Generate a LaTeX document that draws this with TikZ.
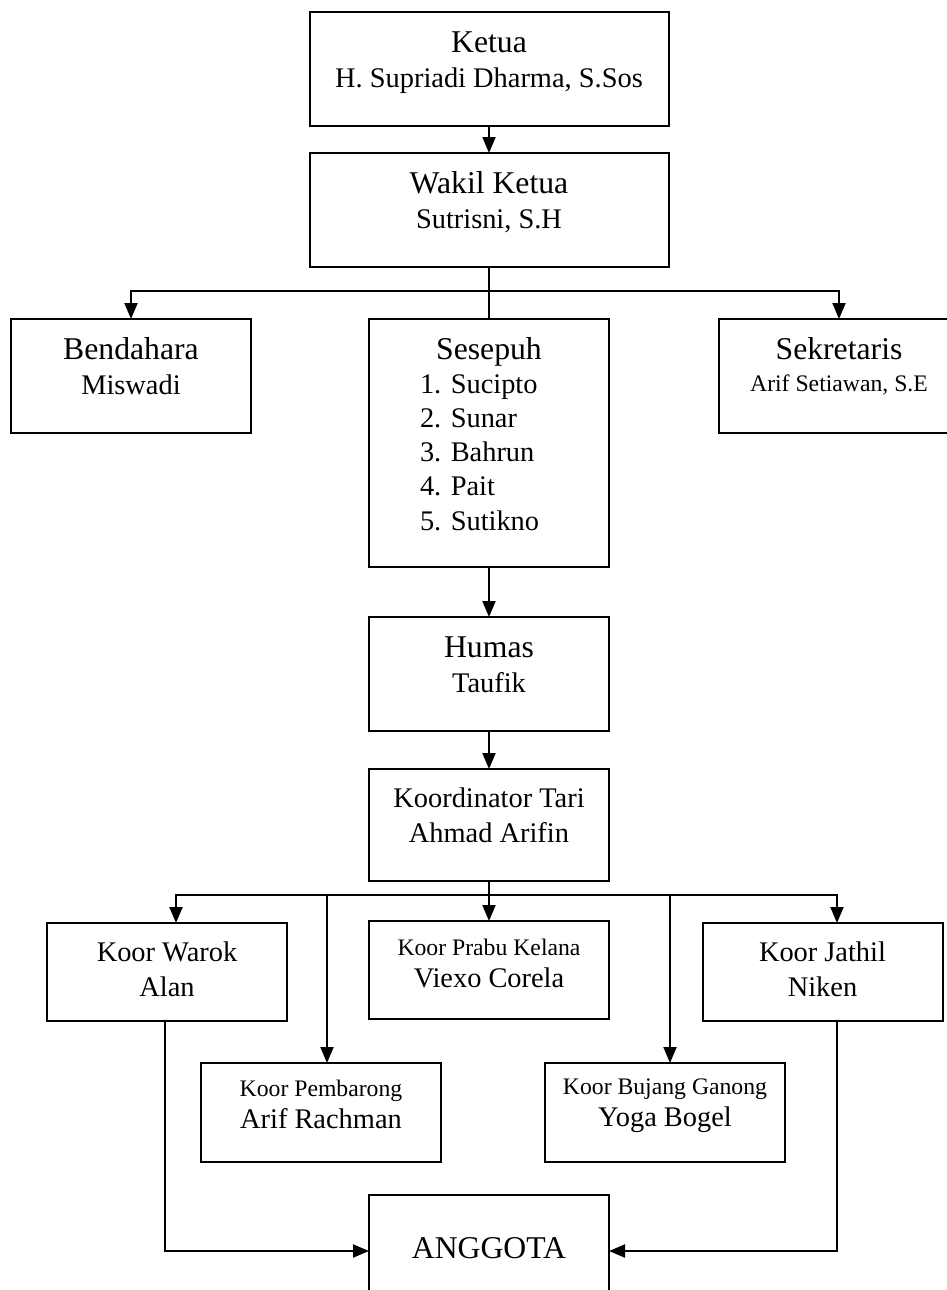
\documentclass[tikz,border=0pt]{standalone}
\usepackage{fontspec}
\setmainfont{Liberation Serif}
\usetikzlibrary{arrows.meta}
\usetikzlibrary{positioning}
\tikzset{>={Triangle[length=8pt,width=6.5pt]}}
\newcommand\titlesz{\fontsize{15.85pt}{17.5pt}\selectfont}
\newcommand\namesz{\fontsize{14.2pt}{17.5pt}\selectfont}
\newcommand\smallsz{\fontsize{11.85pt}{14pt}\selectfont}
\newcommand\boxwidth{120pt}
\newcommand\widebox{179.5pt}
\newcommand\elder[1]{\makebox[69pt][l]{#1}}
\tikzset{
    link/.style = {line width=1pt},
    orgbox/.style={draw, line width=1pt, inner sep=0pt, outer sep=0pt, text width=\boxwidth, align=flush center, font=\namesz, text height=20pt, text depth=37pt},
    tallbox/.style={text depth=104pt, font={\fontsize{14.2pt}{17.1pt}\selectfont}},
    koorbox/.style={text height=19pt, text depth=30pt},
    smallhead/.style={text height=16.5pt, text depth=33pt, font={\fontsize{14.2pt}{16pt}\selectfont}},
}

\begin{document}
\begin{tikzpicture}[x=0.5pt, y=-0.5pt]
    \useasboundingbox (0,0) rectangle (947,1290);
    \clip (0,0) rectangle (947,1290);
    \node[orgbox, text width=\widebox, anchor=north] (ketua) at (489,12) {{\titlesz Ketua}\\H. Supriadi Dharma, S.Sos};
    \node[orgbox, text width=\widebox, below=13.5pt of ketua] (wakil) {{\titlesz Wakil Ketua}\\Sutrisni, S.H};
    \node[orgbox, tallbox, below=26pt of wakil] (sesepuh) {{\titlesz Sesepuh}\\\elder{1. Sucipto}\\\elder{2. Sunar}\\\elder{3. Bahrun}\\\elder{4. Pait}\\\elder{5. Sutikno}};
    \node[orgbox, anchor=north] (bendahara) at (131,319) {{\titlesz Bendahara}\\Miswadi};
    \node[orgbox, anchor=north, font={\fontsize{14.2pt}{16pt}\selectfont}] (sekretaris) at (839,319) {{\titlesz Sekretaris}\\{\smallsz Arif Setiawan, S.E}};
    \node[orgbox, below=25pt of sesepuh] (humas) {{\titlesz Humas}\\Taufik};
    \node[orgbox, text height=19pt, below=19pt of humas] (koord) {Koordinator Tari\\Ahmad Arifin};
    \node[orgbox, smallhead, text height=17pt, text depth=32pt, below=20pt of koord] (prabu) {{\smallsz Koor Prabu Kelana}\\Viexo Corela};
    \node[orgbox, koorbox, anchor=north] (warok) at (167,923) {Koor Warok\\Alan};
    \node[orgbox, koorbox, anchor=north] (jathil) at (822.5,923) {Koor Jathil\\Niken};
    \node[orgbox, smallhead, anchor=north] (pembarong) at (321,1063) {{\smallsz Koor Pembarong}\\Arif Rachman};
    \node[orgbox, smallhead, text height=15.5pt, text depth=34pt, anchor=north] (bujang) at (665,1063) {{\smallsz Koor Bujang Ganong}\\Yoga Bogel};
    \node[orgbox, font=\titlesz, text height=31.5pt, text depth=28.5pt, below=88pt of prabu] (anggota) {ANGGOTA};

    \coordinate (split) at (489,291);
    \coordinate (bus) at (489,895);
    \coordinate (busW) at (176,895);
    \coordinate (busP) at (327,895);
    \coordinate (busB) at (670,895);
    \coordinate (busJ) at (837,895);
    \coordinate (joinL) at (165,1251);
    \coordinate (joinR) at (837,1251);

    \draw[->, link] (ketua) -- (wakil);
    \draw[link] (wakil) -- (sesepuh);
    \draw[->, link] (split) -| (bendahara.north);
    \draw[->, link] (split) -| (sekretaris.north);
    \draw[->, link] (sesepuh) -- (humas);
    \draw[->, link] (humas) -- (koord);
    \draw[->, link] (koord) -- (prabu);
    \draw[->, link] (bus) -| (busW |- warok.north);
    \draw[->, link] (bus) -| (busJ |- jathil.north);
    \draw[->, link] (busP) -- (busP |- pembarong.north);
    \draw[->, link] (busB) -- (busB |- bujang.north);
    \draw[->, link] (joinL |- warok.south) -- (joinL) -- (anggota.west |- joinL);
    \draw[->, link] (joinR |- jathil.south) -- (joinR) -- (anggota.east |- joinR);
\end{tikzpicture}
\end{document}
